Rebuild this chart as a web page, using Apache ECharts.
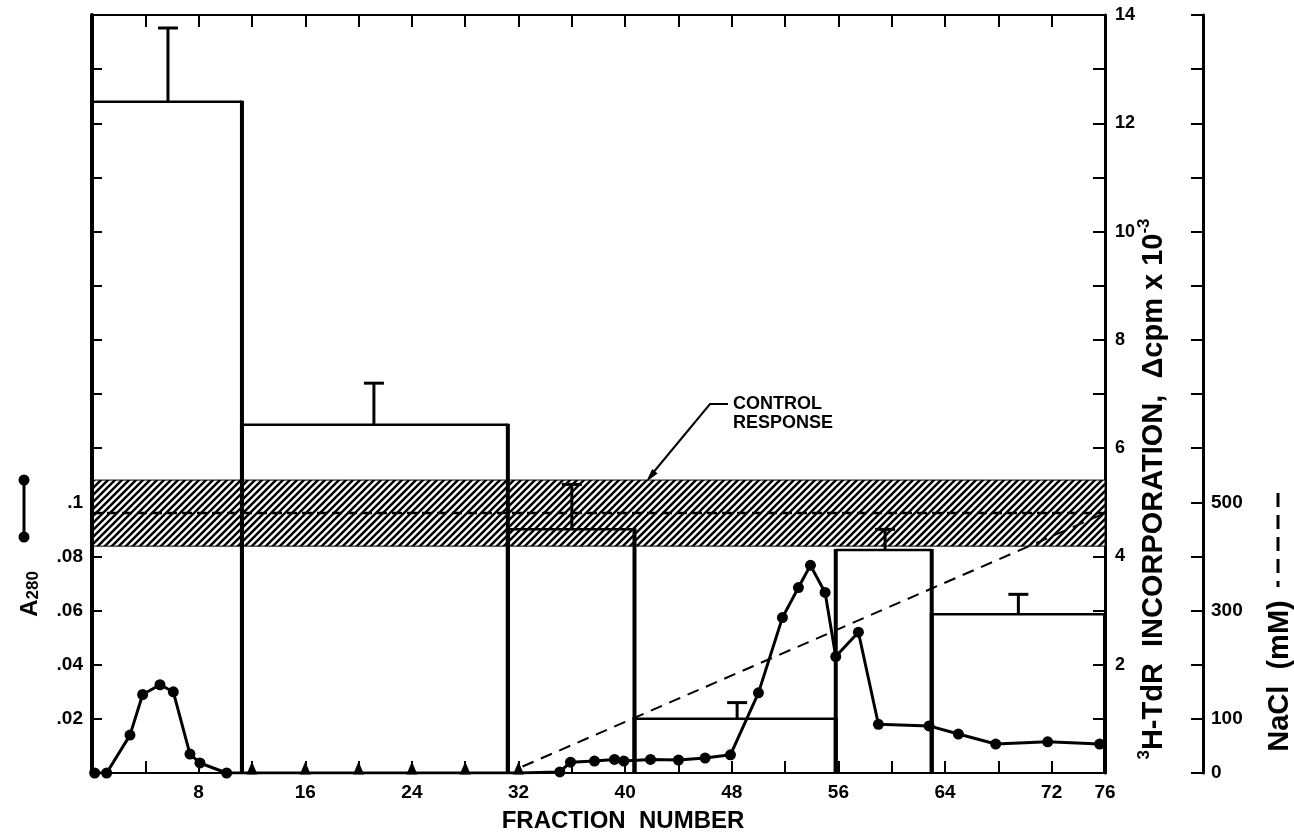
<!DOCTYPE html>
<html>
<head>
<meta charset="utf-8">
<script src="https://cdn.jsdelivr.net/npm/echarts@6/dist/echarts.min.js"></script>
<style>
html,body{margin:0;padding:0;background:#fff;}
#chart{width:1294px;height:836px;}
</style>
</head>
<body>
<div id="chart"></div>
<script>
// ---------- data ----------
// A280 elution profile (fraction number, absorbance)
const a280Fraction = [0.2, 1.1, 2.85, 3.8, 5.1, 6.1, 7.35, 8.1, 10.1, 12, 16, 20, 24, 28, 32, 35.1, 35.9, 37.7, 39.2, 39.9, 41.9, 44.0, 46.0, 47.9, 50.0, 51.8, 53.0, 53.9, 55.0, 55.8, 57.5, 59.0, 62.8, 65.0, 67.8, 71.7, 75.6];
const a280Value    = [0, 0, 0.014, 0.029, 0.0326, 0.030, 0.007, 0.0037, 0, 0, 0, 0, 0, 0, 0, 0.0004, 0.004, 0.0044, 0.005, 0.0044, 0.005, 0.0048, 0.0055, 0.0067, 0.0296, 0.0574, 0.0685, 0.0767, 0.0667, 0.043, 0.052, 0.018, 0.0174, 0.0144, 0.0107, 0.0115, 0.0107];
// fractions plotted with triangle markers
const a280TriangleFractions = [12, 16, 20, 24, 28, 32];

// 3H-TdR incorporation of pooled fractions (delta cpm x 10^-3)
const poolStart = [0, 11.25, 31.2, 40.7, 55.8, 63.0];
const poolEnd   = [11.25, 31.2, 40.7, 55.8, 63.0, 76];
const poolValue = [12.4, 6.43, 4.5, 1.0, 4.12, 2.93];
const poolErrX  = [5.7, 21.15, 36.0, 48.4, 59.5, 69.5];
const poolErrTop = [13.76, 7.2, 5.33, 1.3, 4.5, 3.3];

// control response band (delta cpm x 10^-3)
const controlLow = [4.19];
const controlHigh = [5.41];
const controlMean = [4.8];

// NaCl gradient (fraction, mM)
const naclFraction = [32.3, 76];
const naclValue = [12, 480];

// tick labels
const xLabelValues = [8, 16, 24, 32, 40, 48, 56, 64, 72, 76];
const leftLabelValues = [0.02, 0.04, 0.06, 0.08, 0.1];
const rightLabelValues = [2, 4, 6, 8, 10, 12, 14];
const naclLabelValues = [0, 100, 300, 500];

// ---------- chart ----------
const FONT = '"Liberation Sans", Arial, sans-serif';
const chart = echarts.init(document.getElementById('chart'), null, {renderer: 'canvas'});

function hasVal(list, v) { return list.some(t => Math.abs(t - v) < 1e-6); }

function makeHatch() {
  const c = document.createElement('canvas');
  c.width = 7; c.height = 7;
  const g = c.getContext('2d');
  g.fillStyle = '#fff'; g.fillRect(0, 0, 7, 7);
  g.strokeStyle = '#000'; g.lineWidth = 2.5;
  g.beginPath();
  for (let k = -1; k <= 1; k++) { g.moveTo(-1 + k * 7, 8); g.lineTo(8 + k * 7, -1); }
  g.stroke();
  return c;
}
const hatch = makeHatch();

const a280Data = a280Fraction.map((f, i) => {
  const item = {value: [f, a280Value[i]]};
  if (a280TriangleFractions.includes(f)) {
    item.symbol = 'triangle';
    item.symbolSize = [11, 13];
    item.symbolOffset = [0, -5];
  }
  return item;
});

const tickStyle = {color: '#000', width: 2};
const labelStyle = {color: '#000', fontSize: 18, fontWeight: 'bold', fontFamily: FONT};

const option = {
  animation: false,
  backgroundColor: '#fff',
  grid: {left: 92, right: 189, top: 15, bottom: 63, containLabel: false},
  xAxis: [{
    type: 'value', min: 0, max: 76, interval: 4, position: 'bottom',
    axisLine: {onZero: false, lineStyle: {color: '#000', width: 2}},
    axisTick: {inside: true, length: 12, lineStyle: tickStyle},
    splitLine: {show: false},
    axisLabel: Object.assign({}, labelStyle, {fontSize: 19, margin: 10,
      formatter: v => hasVal(xLabelValues, v) ? String(v) : ''})
  }, {
    type: 'value', min: 0, max: 76, interval: 4, position: 'top',
    axisLine: {onZero: false, lineStyle: {color: '#000', width: 2}},
    axisTick: {inside: true, length: 12, lineStyle: tickStyle},
    splitLine: {show: false},
    axisLabel: {show: false}
  }],
  yAxis: [{
    type: 'value', min: 0, max: 0.28, interval: 0.02, position: 'left',
    axisLine: {show: true, onZero: false, lineStyle: {color: '#000', width: 4}},
    axisTick: {show: true, inside: true, length: 10, lineStyle: tickStyle},
    splitLine: {show: false},
    axisLabel: Object.assign({}, labelStyle, {fontSize: 19, margin: 9,
      formatter: v => hasVal(leftLabelValues, v) ? v.toFixed(2).replace(/^0/, '').replace(/0$/, '') : ''})
  }, {
    type: 'value', min: 0, max: 14, interval: 1, position: 'right',
    axisLine: {show: true, onZero: false, lineStyle: {color: '#000', width: 3}},
    axisTick: {show: true, inside: true, length: 12, lineStyle: tickStyle},
    splitLine: {show: false},
    axisLabel: Object.assign({}, labelStyle, {margin: 10,
      formatter: v => hasVal(rightLabelValues, v) ? String(v) : ''})
  }, {
    type: 'value', min: 0, max: 1400, interval: 100, position: 'right', offset: 98,
    axisLine: {show: true, onZero: false, lineStyle: {color: '#000', width: 3}},
    axisTick: {show: true, inside: true, length: 12, lineStyle: tickStyle},
    splitLine: {show: false},
    axisLabel: Object.assign({}, labelStyle, {fontSize: 19, margin: 8,
      formatter: v => hasVal(naclLabelValues, v) ? String(v) : ''})
  }],
  series: [
    { // control response band
      type: 'custom', xAxisIndex: 0, yAxisIndex: 1, silent: true, z: 1,
      data: controlLow.map((lo, i) => [0, 76, lo, controlHigh[i], controlMean[i]]),
      encode: {x: [0, 1], y: [2, 3]},
      renderItem: (params, api) => {
        const a = api.coord([api.value(0), api.value(3)]);
        const b = api.coord([api.value(1), api.value(2)]);
        const m = api.coord([0, api.value(4)]);
        return {type: 'group', children: [
          {type: 'rect', shape: {x: a[0], y: a[1], width: b[0] - a[0], height: b[1] - a[1]},
           style: {fill: {image: hatch, repeat: 'repeat'}, stroke: '#000', lineWidth: 1}},
          {type: 'line', shape: {x1: a[0], y1: m[1], x2: b[0], y2: m[1]},
           style: {stroke: '#000', lineWidth: 2.5, lineDash: [10, 5]}}
        ]};
      }
    },
    { // pooled-fraction bars
      type: 'custom', xAxisIndex: 0, yAxisIndex: 1, silent: true, z: 3,
      data: poolStart.map((s, i) => [s, poolEnd[i], poolValue[i]]),
      encode: {x: [0, 1], y: 2},
      renderItem: (params, api) => {
        const a = api.coord([api.value(0), 0]);
        const b = api.coord([api.value(1), api.value(2)]);
        return {type: 'group', children: [
          {type: 'line', shape: {x1: a[0], y1: a[1], x2: a[0], y2: b[1] - 1}, style: {stroke: '#000', lineWidth: 4}},
          {type: 'line', shape: {x1: a[0], y1: b[1], x2: b[0], y2: b[1]}, style: {stroke: '#000', lineWidth: 2.5}},
          {type: 'line', shape: {x1: b[0], y1: a[1], x2: b[0], y2: b[1] - 1}, style: {stroke: '#000', lineWidth: 4}}
        ]};
      }
    },
    { // error bars
      type: 'custom', xAxisIndex: 0, yAxisIndex: 1, silent: true, z: 3,
      data: poolErrX.map((x, i) => [x, poolValue[i], poolErrTop[i]]),
      encode: {x: 0, y: [1, 2]},
      renderItem: (params, api) => {
        const a = api.coord([api.value(0), api.value(1)]);
        const b = api.coord([api.value(0), api.value(2)]);
        return {type: 'group', children: [
          {type: 'line', shape: {x1: a[0], y1: a[1], x2: b[0], y2: b[1]}, style: {stroke: '#000', lineWidth: 3}},
          {type: 'line', shape: {x1: b[0] - 10, y1: b[1], x2: b[0] + 10, y2: b[1]}, style: {stroke: '#000', lineWidth: 3}}
        ]};
      }
    },
    { // NaCl gradient
      type: 'line', xAxisIndex: 0, yAxisIndex: 2, z: 4, silent: true,
      data: naclFraction.map((f, i) => [f, naclValue[i]]),
      symbol: 'none',
      lineStyle: {color: '#000', width: 2, type: [12, 8]}
    },
    { // A280
      type: 'line', xAxisIndex: 0, yAxisIndex: 0, z: 5, silent: true,
      data: a280Data,
      symbol: 'circle', symbolSize: 11, showAllSymbol: true,
      itemStyle: {color: '#000'},
      lineStyle: {color: '#000', width: 3}
    }
  ],
  graphic: [
    // A280 legend glyph
    {type: 'line', shape: {x1: 24, y1: 480, x2: 24, y2: 537}, style: {stroke: '#000', lineWidth: 3}},
    {type: 'circle', shape: {cx: 24, cy: 480, r: 5.5}, style: {fill: '#000'}},
    {type: 'circle', shape: {cx: 24, cy: 537, r: 5.5}, style: {fill: '#000'}},
    {type: 'text', x: 30, y: 594, rotation: Math.PI / 2,
     style: {text: 'A{s|280}', fill: '#000', fontSize: 24, fontWeight: 'bold', fontFamily: FONT,
       align: 'center', verticalAlign: 'middle',
       rich: {s: {fontSize: 17, fontWeight: 'bold', fontFamily: FONT, verticalAlign: 'bottom', fill: '#000'}}}},
    // x axis title
    {type: 'text', x: 623, y: 821,
     style: {text: 'FRACTION  NUMBER', fill: '#000', fontSize: 24, fontWeight: 'bold', fontFamily: FONT,
       align: 'center', verticalAlign: 'middle'}},
    // right axis title
    {type: 'text', x: 1154, y: 489, rotation: Math.PI / 2,
     style: {text: '{s|3}H-TdR  INCORPORATION,  \u0394cpm x 10{s|-3}', fill: '#000', fontSize: 29, fontWeight: 'bold', fontFamily: FONT,
       align: 'center', verticalAlign: 'middle', lineHeight: 36,
       rich: {s: {fontSize: 17, fontWeight: 'bold', fontFamily: FONT, verticalAlign: 'top', fill: '#000'}}}},
    // NaCl title + dashed key
    {type: 'text', x: 1280, y: 676, rotation: Math.PI / 2,
     style: {text: 'NaCl  (mM)', fill: '#000', fontSize: 29, fontWeight: 'bold', fontFamily: FONT,
       align: 'center', verticalAlign: 'middle'}},
    {type: 'line', shape: {x1: 1278, y1: 493, x2: 1278, y2: 587}, style: {stroke: '#000', lineWidth: 3, lineDash: [14, 8]}},
    // control response annotation
    {type: 'text', x: 733, y: 404,
     style: {text: 'CONTROL', fill: '#000', fontSize: 18, fontWeight: 'bold', fontFamily: FONT, align: 'left', verticalAlign: 'middle'}},
    {type: 'text', x: 733, y: 423,
     style: {text: 'RESPONSE', fill: '#000', fontSize: 18, fontWeight: 'bold', fontFamily: FONT, align: 'left', verticalAlign: 'middle'}},
    {type: 'polyline', shape: {points: [[728, 404], [710, 404], [652, 474]]}, style: {stroke: '#000', lineWidth: 2, fill: null}},
    {type: 'polygon', shape: {points: [[646, 482], [657.6, 473.4], [652.2, 469.0]]}, style: {fill: '#000'}}
  ]
};
chart.setOption(option);
</script>
</body>
</html>
